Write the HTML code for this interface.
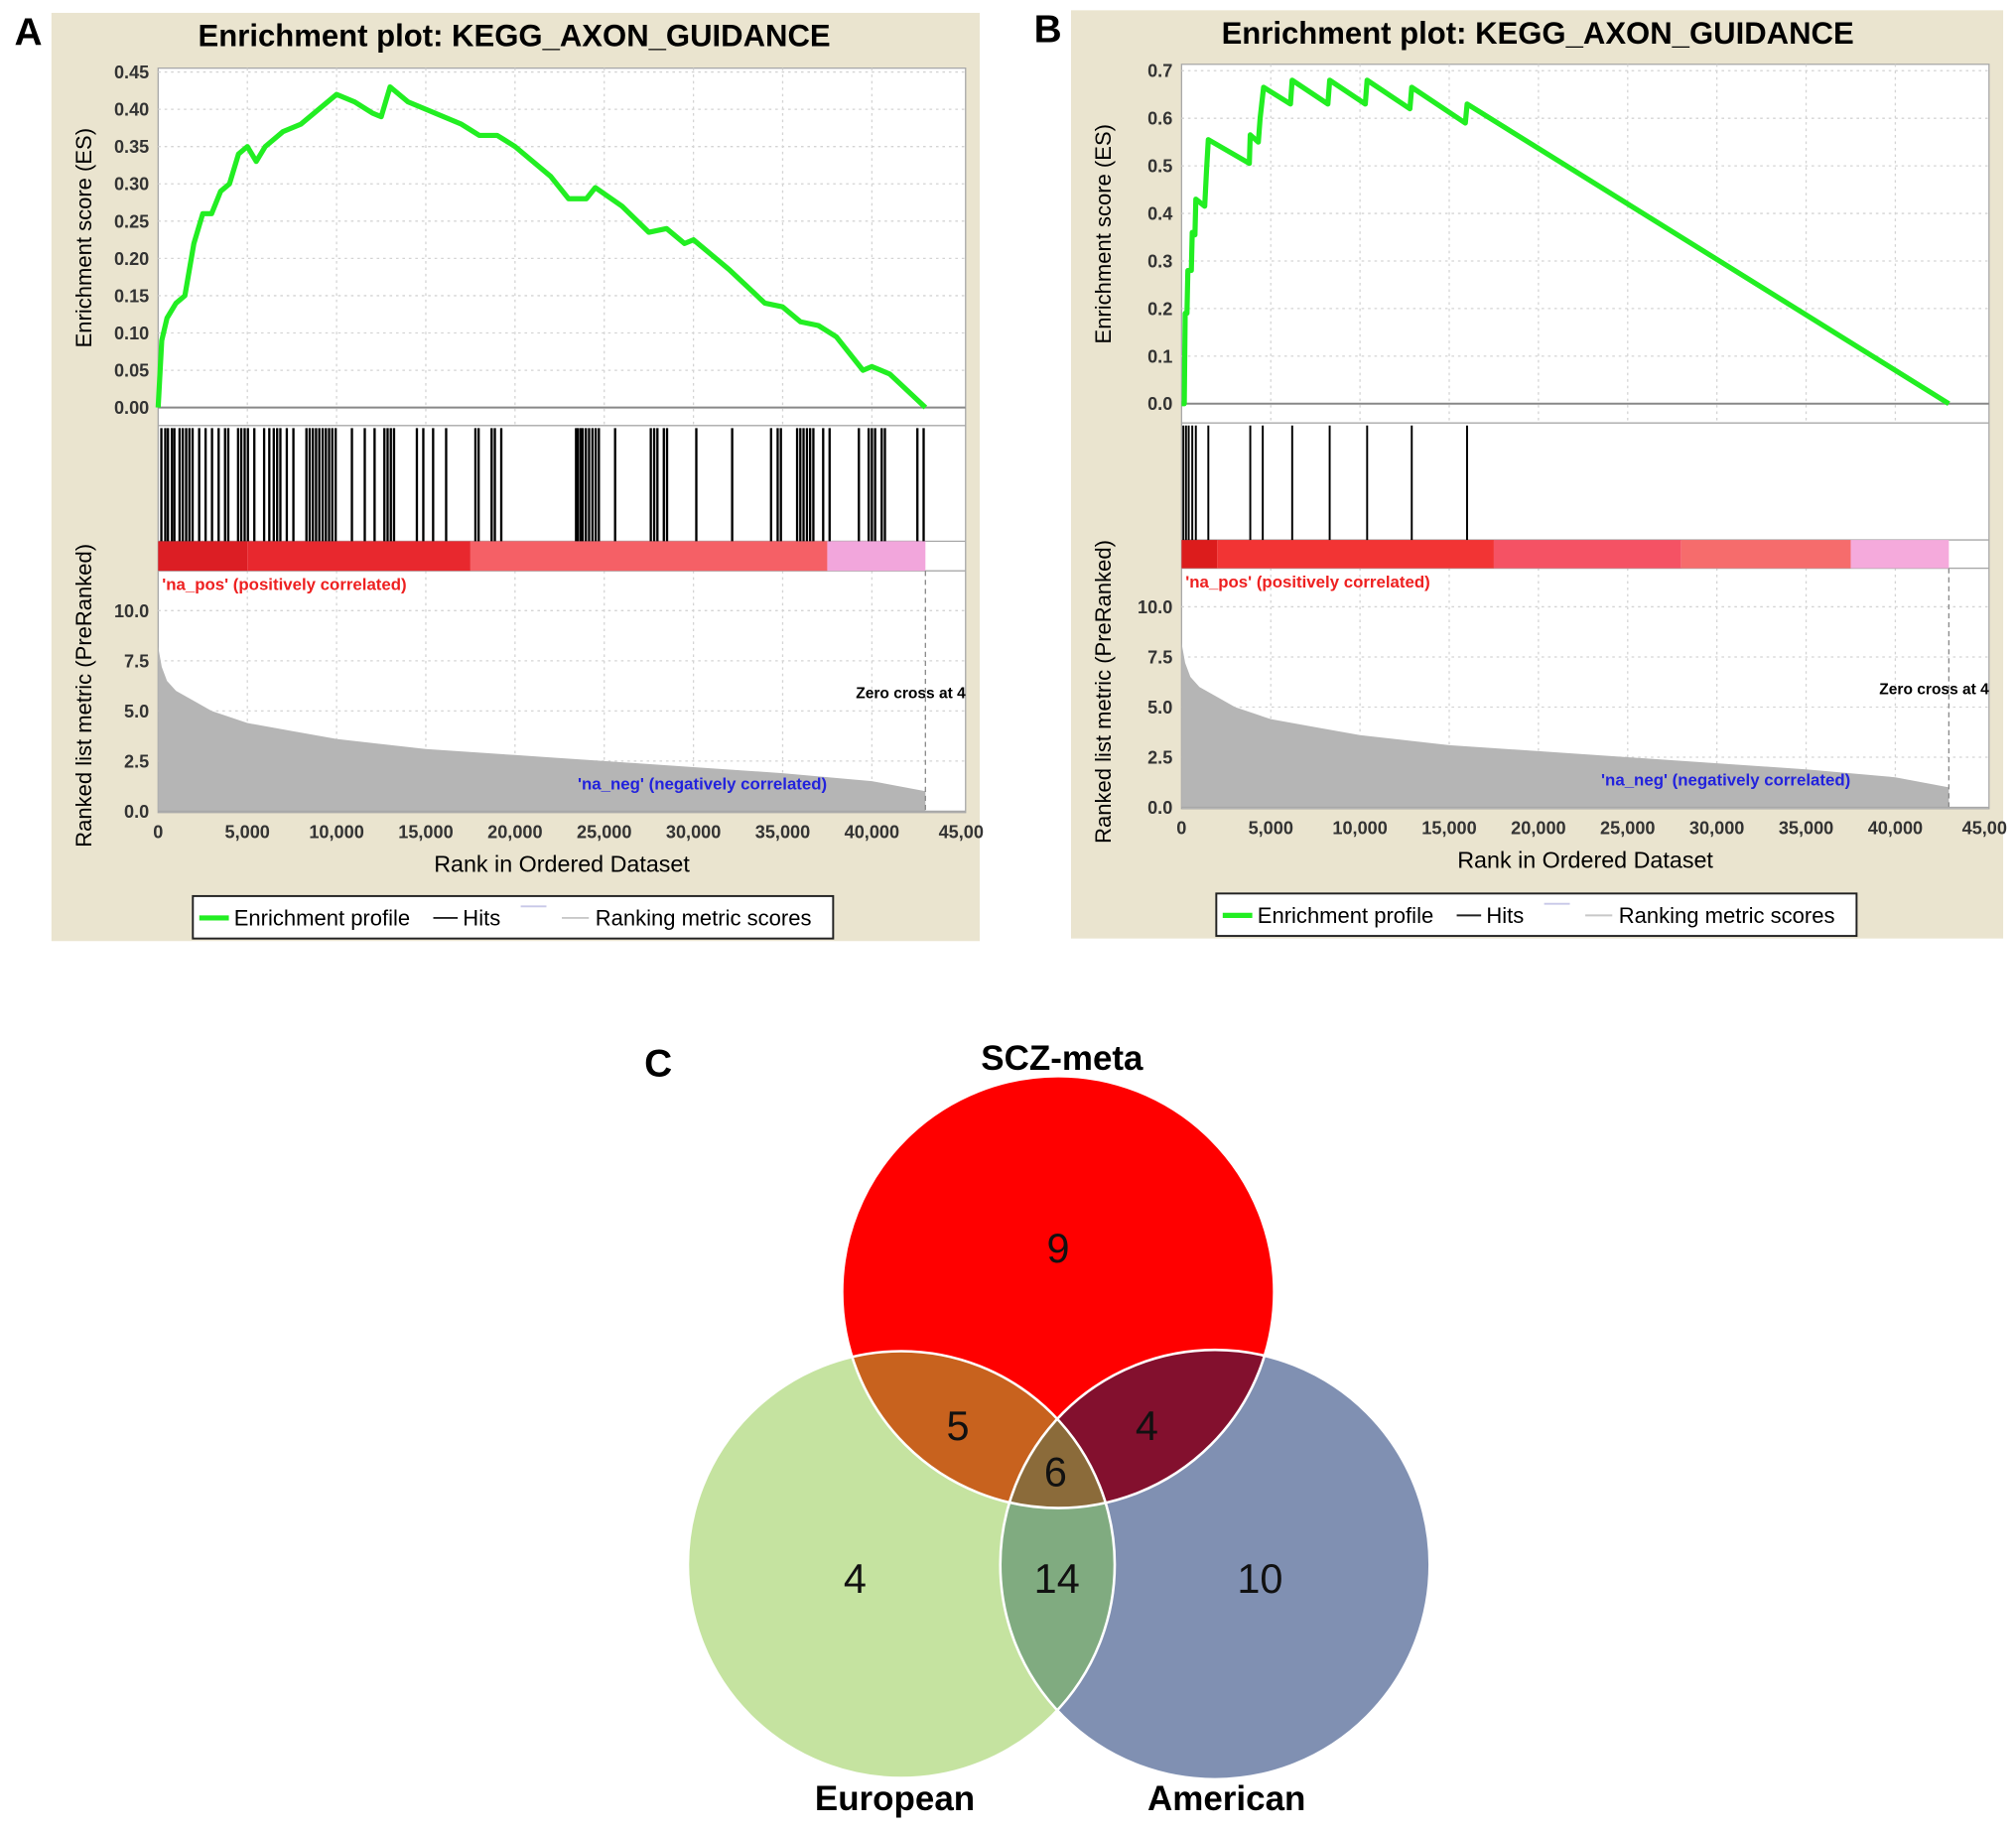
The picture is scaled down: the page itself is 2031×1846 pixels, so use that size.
<!DOCTYPE html>
<html><head><meta charset="utf-8"><style>
html,body{margin:0;padding:0;background:#fff;}
svg{display:block;font-family:"Liberation Sans",Arial,sans-serif;}
</style></head><body>
<svg id="fig" width="2031" height="1846" viewBox="0 0 1568 1425" preserveAspectRatio="none">
<g id="pa"></g>
<g id="pb"></g>
<g id="pc">
 <defs>
  <clipPath id="cR"><circle cx="823" cy="1005" r="168"/></clipPath>
  <clipPath id="cG"><circle cx="701" cy="1217" r="166"/></clipPath>
  <clipPath id="cB"><circle cx="945" cy="1217" r="167"/></clipPath>
 </defs>
 <text x="512" y="837" font-size="30" font-weight="bold" text-anchor="middle">C</text>
 <text x="826" y="832" font-size="27" font-weight="bold" text-anchor="middle">SCZ-meta</text>
 <circle cx="823" cy="1005" r="168" fill="#ff0000"/>
 <circle cx="701" cy="1217" r="166" fill="#c5e3a0"/>
 <circle cx="945" cy="1217" r="167" fill="#8090b2"/>
 <g clip-path="url(#cR)"><circle cx="701" cy="1217" r="166" fill="#c8621e"/></g>
 <g clip-path="url(#cR)"><circle cx="945" cy="1217" r="167" fill="#83102e"/></g>
 <g clip-path="url(#cG)"><circle cx="945" cy="1217" r="167" fill="#80ab80"/></g>
 <g clip-path="url(#cR)"><g clip-path="url(#cG)"><circle cx="945" cy="1217" r="167" fill="#8b6b3a"/></g></g>
 <circle cx="823" cy="1005" r="168" fill="none" stroke="#fff" stroke-width="2"/>
 <circle cx="701" cy="1217" r="166" fill="none" stroke="#fff" stroke-width="2"/>
 <circle cx="945" cy="1217" r="167" fill="none" stroke="#fff" stroke-width="2"/>
 <g font-size="32" text-anchor="middle" fill="#111">
  <text x="823" y="982">9</text>
  <text x="745" y="1120">5</text>
  <text x="892" y="1120">4</text>
  <text x="821" y="1156">6</text>
  <text x="665" y="1239">4</text>
  <text x="822" y="1239">14</text>
  <text x="980" y="1239">10</text>
 </g>
 <text x="696" y="1408" font-size="27" font-weight="bold" text-anchor="middle">European</text>
 <text x="954" y="1408" font-size="27" font-weight="bold" text-anchor="middle">American</text>
</g>
</svg>
<script>
// ---- Panel A data ----
const esA_ranks = [0,200,500,1000,1500,2000,2500,3000,3500,4000,4500,5000,5500,6000,7000,8000,9000,10000,11000,12000,12500,13000,14000,15000,17000,18000,19000,20000,22000,23000,24000,24500,26000,27500,28500,29500,30000,32000,34000,35000,36000,37000,38000,39500,40000,41000,43000];
const esA_values = [0,0.09,0.12,0.14,0.15,0.22,0.26,0.26,0.29,0.30,0.34,0.35,0.33,0.35,0.37,0.38,0.40,0.42,0.41,0.395,0.39,0.43,0.41,0.40,0.38,0.365,0.365,0.35,0.31,0.28,0.28,0.295,0.27,0.235,0.24,0.22,0.225,0.185,0.14,0.135,0.115,0.11,0.095,0.05,0.055,0.045,0];
const hitsA = [180,400,550,770,910,1200,1380,1570,1750,1930,2300,2660,3020,3390,3750,3930,4480,4660,4850,5030,5390,5940,6230,6480,6670,6850,7210,7580,8310,8490,8670,8850,9030,9220,9400,9580,9760,9950,10860,11580,12130,12680,12860,13040,13220,14500,14860,15410,16140,17780,17960,18690,18870,19230,23420,23530,23680,23790,23970,24150,24340,24520,24700,25610,27610,27800,27980,28340,28520,30160,32170,34350,34720,34900,35810,35990,36170,36360,36540,36720,37270,37630,39270,39820,40000,40180,40550,40730,42550,42900];
const esA_ticks = [0,0.05,0.10,0.15,0.20,0.25,0.30,0.35,0.40,0.45];
const esA_tickLabels = ["0.00","0.05","0.10","0.15","0.20","0.25","0.30","0.35","0.40","0.45"];
// ---- Panel B data ----
const esB_ranks = [0,150,200,300,350,550,600,750,800,1300,1400,1500,3800,3850,4300,4400,4600,6100,6200,8200,8300,10300,10400,12800,12900,15900,16000,43000];
const esB_values = [0,0,0.19,0.19,0.28,0.28,0.36,0.355,0.43,0.415,0.49,0.555,0.505,0.565,0.55,0.60,0.665,0.63,0.68,0.63,0.68,0.63,0.68,0.62,0.665,0.59,0.63,0];
const hitsB = [100,250,400,600,800,1500,3850,4550,6200,8300,10400,12900,16000];
const esB_ticks = [0,0.1,0.2,0.3,0.4,0.5,0.6,0.7];
const esB_tickLabels = ["0.0","0.1","0.2","0.3","0.4","0.5","0.6","0.7"];
// ---- shared ranked-list metric ----
const metric_ranks = [0,200,500,1000,2000,3000,5000,7500,10000,15000,20000,25000,30000,35000,40000,43000];
const metric_values = [8.2,7.2,6.5,6.0,5.5,5.0,4.4,4.0,3.6,3.1,2.8,2.5,2.2,1.9,1.5,1.0];
const metric_ticks = [0,2.5,5.0,7.5,10.0];
const metric_tickLabels = ["0.0","2.5","5.0","7.5","10.0"];
const x_ticks = [0,5000,10000,15000,20000,25000,30000,35000,40000,45000];
const x_tickLabels = ["0","5,000","10,000","15,000","20,000","25,000","30,000","35,000","40,000","45,00"];
const barA_bounds = [0,5000,17500,37500,43000];
const barA_colors = ["#dc1e24","#e8282e","#f56066","#f2a6dc"];
const barB_bounds = [0,2000,17500,28000,37500,43000];
const barB_colors = ["#dc1c1c","#f23434","#f55264","#f66c6c","#f5aadc"];

const NS="http://www.w3.org/2000/svg";
function mk(p,tag,at,txt){const e=document.createElementNS(NS,tag);for(const k in at)e.setAttribute(k,at[k]);if(txt!=null)e.textContent=txt;p.appendChild(e);return e;}

function drawPanel(g,c){
  const L=c.ox+c.L, R=c.ox+c.R;
  const xs=(R-L)/45250; const xr=r=>L+r*xs;
  const Ey=v=>c.e0+(c.eMaxY-c.e0)*(v/c.eMax);
  const My=v=>c.m0+(c.m10-c.m0)*(v/10);
  let e;
  e=mk(g,'rect',{x:c.ox,y:c.oy,width:c.bw,height:c.bh,fill:'#eae4cf'});
  
  e=mk(g,'text',{x:c.ox-18,y:c.oy+25,'font-size':30,'font-weight':'bold','text-anchor':'middle'},c.letter);
  
  e=mk(g,'text',{x:c.ox+c.tx,y:c.oy+26,'font-size':24,'font-weight':'bold','text-anchor':'middle'},'Enrichment plot: KEGG_AXON_GUIDANCE');
  
  e=mk(g,'rect',{x:L,y:c.top,width:R-L,height:c.bottom-c.top,fill:'#fff',stroke:'#a8a8a8','stroke-width':1});
  
  x_ticks.forEach(t=>{ if(t>0&&t<45000){const gl=mk(g,'line',{x1:xr(t),x2:xr(t),y1:c.top,y2:c.hitTop,stroke:'#d4d4d4','stroke-dasharray':'2,3'});
    const gl2=mk(g,'line',{x1:xr(t),x2:xr(t),y1:c.barBot,y2:c.m0,stroke:'#d4d4d4','stroke-dasharray':'2,3'});}});
  c.eTicks.forEach((t,i)=>{const y=Ey(t);
    if(i>0){const gl=mk(g,'line',{x1:L,x2:R,y1:y,y2:y,stroke:'#d4d4d4','stroke-dasharray':'2,3'});}
    const tl=mk(g,'text',{x:L-7,y:y+5,'font-size':14,'font-weight':'bold','text-anchor':'end',fill:'#333'},c.eLabels[i]);
    });
  metric_ticks.forEach((t,i)=>{const y=My(t);
    if(i>0){const gl=mk(g,'line',{x1:L,x2:R,y1:y,y2:y,stroke:'#d4d4d4','stroke-dasharray':'2,3'});}
    const tl=mk(g,'text',{x:L-7,y:y+5,'font-size':14,'font-weight':'bold','text-anchor':'end',fill:'#333'},metric_tickLabels[i]);
    });
  e=mk(g,'line',{x1:L,x2:R,y1:Ey(0),y2:Ey(0),stroke:'#888','stroke-width':1.5});
  
  [c.hitTop,c.barTop,c.barBot].forEach(y=>{const s=mk(g,'line',{x1:L,x2:R,y1:y,y2:y,stroke:'#a8a8a8'});});
  const pts=c.esR.map((r,i)=>xr(r).toFixed(1)+','+Ey(c.esV[i]).toFixed(1)).join(' ');
  e=mk(g,'polyline',{points:pts,fill:'none',stroke:'#22ee22','stroke-width':4,'stroke-linejoin':'round'});
  
  for(let i=0;i<c.barColors.length;i++){
    const s=mk(g,'rect',{x:xr(c.barBounds[i]),y:c.barTop,width:xr(c.barBounds[i+1])-xr(c.barBounds[i]),height:c.barBot-c.barTop,fill:c.barColors[i]});
    
  }
  c.hits.forEach(h=>{const l=mk(g,'line',{x1:xr(h),x2:xr(h),y1:c.hitTop+2,y2:c.barTop,stroke:'#000','stroke-width':c.hw});
    });
  let mp=xr(0)+','+My(0)+' '+metric_ranks.map((r,i)=>xr(r).toFixed(1)+','+My(metric_values[i]).toFixed(1)).join(' ')+' '+xr(43000)+','+My(0);
  e=mk(g,'polygon',{points:mp,fill:'#b5b5b5'});
  
  e=mk(g,'line',{x1:xr(43000),x2:xr(43000),y1:c.barBot,y2:c.m0,stroke:'#888','stroke-dasharray':'4,3'});
  
  e=mk(g,'line',{x1:L,x2:R,y1:c.m0,y2:c.m0,stroke:'#a8a8a8'});
  
  e=mk(g,'text',{x:R,y:c.m0-88,'font-size':12,'font-weight':'bold','text-anchor':'end'},'Zero cross at 4');
  
  e=mk(g,'text',{x:L+3,y:c.barBot+15,'font-size':13,'font-weight':'bold',fill:'#ee2020'},"'na_pos' (positively correlated)");
  
  e=mk(g,'text',{x:xr(30500),y:c.m0-17,'font-size':13,'font-weight':'bold',fill:'#2222dd','text-anchor':'middle'},"'na_neg' (negatively correlated)");
  
  x_ticks.forEach((t,i)=>{const tl=mk(g,'text',{x:xr(t),y:c.m0+21,'font-size':14,'font-weight':'bold','text-anchor':'middle',fill:'#333'},x_tickLabels[i]);
    });
  e=mk(g,'text',{x:(L+R)/2,y:c.m0+47,'font-size':18,'text-anchor':'middle'},'Rank in Ordered Dataset');
  
  e=mk(g,'text',{x:0,y:0,'font-size':17,'text-anchor':'middle',transform:`translate(${c.ox+31},${(c.top+Ey(0))/2}) rotate(-90)`},'Enrichment score (ES)');
  
  e=mk(g,'text',{x:0,y:0,'font-size':17,'text-anchor':'middle',transform:`translate(${c.ox+31},${c.m0-90}) rotate(-90)`},'Ranked list metric (PreRanked)');
  
  const lx=c.ox+c.lgx, ly=c.lgy;
  e=mk(g,'rect',{x:lx,y:ly,width:498,height:33,fill:'#fff',stroke:'#222','stroke-width':1.5});
  
  mk(g,'line',{x1:lx+5,x2:lx+28,y1:ly+17,y2:ly+17,stroke:'#22ee22','stroke-width':4});
  e=mk(g,'text',{x:lx+32,y:ly+23,'font-size':17},'Enrichment profile');
  mk(g,'line',{x1:lx+187,x2:lx+206,y1:ly+17,y2:ly+17,stroke:'#222','stroke-width':1.5});
  e=mk(g,'text',{x:lx+210,y:ly+23,'font-size':17},'Hits');
  mk(g,'line',{x1:lx+255,x2:lx+275,y1:ly+8,y2:ly+8,stroke:'#c8c8e8','stroke-width':1.5});
  mk(g,'line',{x1:lx+287,x2:lx+308,y1:ly+17,y2:ly+17,stroke:'#c8c8c8','stroke-width':1.5});
  e=mk(g,'text',{x:lx+313,y:ly+23,'font-size':17},'Ranking metric scores');
}

drawPanel(document.getElementById('pa'),{letter:'A',ox:40,oy:10,bw:722,bh:722,tx:360,L:83,R:711,top:53,
  e0:317,eMaxY:56,eMax:0.45,eTicks:esA_ticks,eLabels:esA_tickLabels,hitTop:331,barTop:421,barBot:444,m0:631,m10:475,
  esR:esA_ranks,esV:esA_values,hits:hitsA,barBounds:barA_bounds,barColors:barA_colors,bottom:632,lgx:110,lgy:697,hw:1.8});
drawPanel(document.getElementById('pb'),{letter:'B',ox:833,oy:8,bw:725,bh:722,tx:363,L:86,R:714,top:50,
  e0:314,eMaxY:55,eMax:0.7,eTicks:esB_ticks,eLabels:esB_tickLabels,hitTop:329,barTop:420,barBot:442,m0:628,m10:472,
  esR:esB_ranks,esV:esB_values,hits:hitsB,barBounds:barB_bounds,barColors:barB_colors,bottom:629,lgx:113,lgy:695,hw:1.5});
</script>
</body></html>
